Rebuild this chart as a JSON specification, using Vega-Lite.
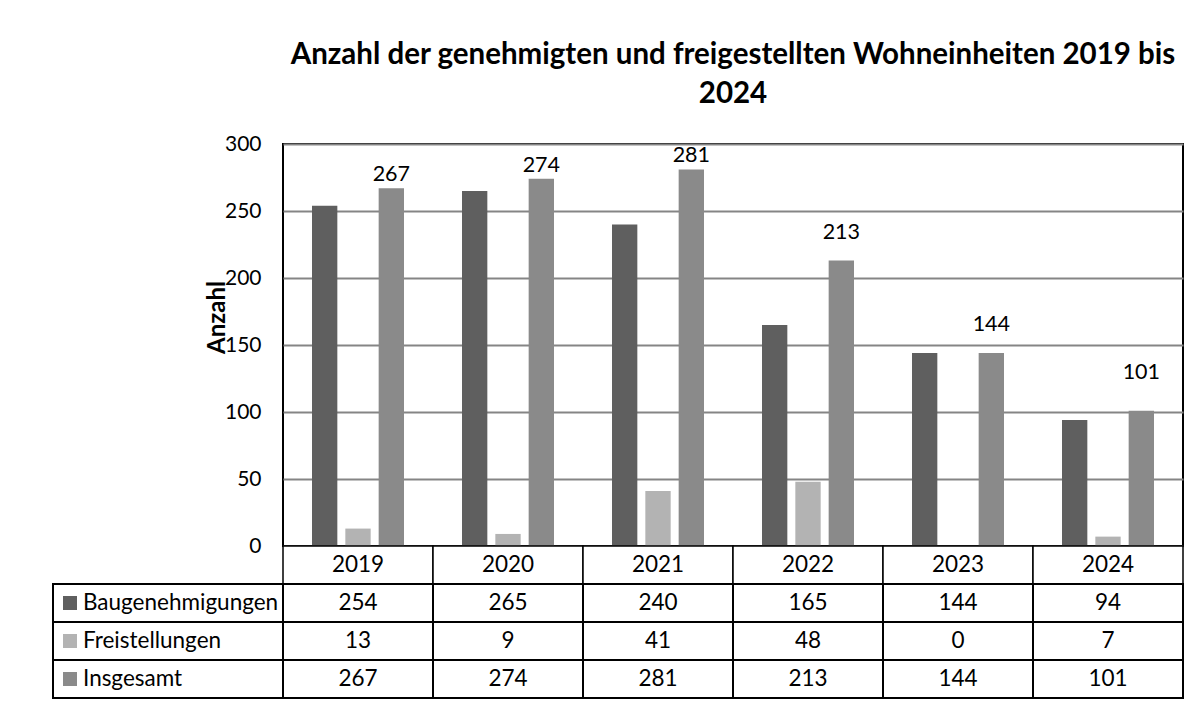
{
  "$schema": "https://vega.github.io/schema/vega-lite/v6.json",
  "background": "white",
  "padding": {"left": 52, "top": 38, "right": 0, "bottom": 0},
  "config": {
    "font": "Lato",
    "view": {"stroke": null},
    "text": {"font": "Lato", "color": "black"},
    "axis": {"labelColor": "black", "titleColor": "black", "labelFont": "Lato", "titleFont": "Lato"}
  },
  "datasets": {
    "main": [
      {"year": "2019", "series": "Baugenehmigungen", "value": 254},
      {"year": "2019", "series": "Freistellungen", "value": 13},
      {"year": "2019", "series": "Insgesamt", "value": 267},
      {"year": "2020", "series": "Baugenehmigungen", "value": 265},
      {"year": "2020", "series": "Freistellungen", "value": 9},
      {"year": "2020", "series": "Insgesamt", "value": 274},
      {"year": "2021", "series": "Baugenehmigungen", "value": 240},
      {"year": "2021", "series": "Freistellungen", "value": 41},
      {"year": "2021", "series": "Insgesamt", "value": 281},
      {"year": "2022", "series": "Baugenehmigungen", "value": 165},
      {"year": "2022", "series": "Freistellungen", "value": 48},
      {"year": "2022", "series": "Insgesamt", "value": 213},
      {"year": "2023", "series": "Baugenehmigungen", "value": 144},
      {"year": "2023", "series": "Freistellungen", "value": 0},
      {"year": "2023", "series": "Insgesamt", "value": 144},
      {"year": "2024", "series": "Baugenehmigungen", "value": 94},
      {"year": "2024", "series": "Freistellungen", "value": 7},
      {"year": "2024", "series": "Insgesamt", "value": 101}
    ]
  },
  "bounds": "flush",
  "spacing": 0,
  "vconcat": [
    {
      "title": {
        "text": ["Anzahl der genehmigten und freigestellten Wohneinheiten 2019 bis", "2024"],
        "font": "Lato",
        "fontSize": 29.5,
        "fontWeight": "bold",
        "color": "black",
        "lineHeight": 39,
        "anchor": "middle",
        "frame": "group",
        "offset": 24
      },
      "width": 900,
      "height": 402,
      "data": {"name": "main"},
      "view": {"stroke": "black", "strokeWidth": 2},
      "encoding": {
        "x": {"field": "year", "type": "nominal", "axis": null, "scale": {"paddingInner": 0, "paddingOuter": 0}},
        "xOffset": {"field": "series", "type": "nominal", "scale": {"domain": ["Baugenehmigungen", "Freistellungen", "Insgesamt"], "paddingInner": 0.24, "paddingOuter": 0.87}},
        "y": {
          "field": "value",
          "type": "quantitative",
          "scale": {"domain": [0, 300], "nice": false},
          "axis": {
            "values": [0, 50, 100, 150, 200, 250, 300],
            "title": "Anzahl",
            "titleFontSize": 24,
            "titleFontWeight": "bold",
            "titleAngle": -90,
            "titleAlign": "center",
            "titleBaseline": "middle",
            "titleX": -66,
            "titleY": 173,
            "labelFontSize": 21,
            "labelPadding": 22,
            "ticks": false,
            "domain": false,
            "grid": true,
            "gridColor": "#858585",
            "gridWidth": 2
          }
        }
      },
      "layer": [
        {
          "mark": {"type": "bar"},
          "encoding": {
            "color": {
              "field": "series",
              "type": "nominal",
              "scale": {"domain": ["Baugenehmigungen", "Freistellungen", "Insgesamt"], "range": ["#5f5f5f", "#b3b3b3", "#8a8a8a"]},
              "legend": null
            }
          }
        },
        {
          "transform": [{"filter": "datum.series == 'Insgesamt'"}],
          "mark": {
            "type": "text",
            "baseline": "bottom",
            "fontSize": 21.5,
            "color": "black",
            "dy": {"expr": "datum.value > 250 ? -2 : (datum.value > 120 ? -17 : -27)"}
          },
          "encoding": {"text": {"field": "value", "type": "quantitative"}}
        }
      ]
    },
    {
      "width": 900,
      "height": 152,
      "data": {"name": "main"},
      "resolve": {"scale": {"x": "independent"}},
      "layer": [
        {
          "transform": [{"filter": "datum.series == 'Insgesamt'"}],
          "mark": {"type": "rect", "fill": "white", "stroke": "black", "strokeWidth": 1.5},
          "encoding": {
            "x": {"field": "year", "type": "nominal", "axis": null, "scale": {"paddingInner": 0, "paddingOuter": 0}},
            "y": {"datum": "Jahr", "type": "nominal", "axis": null, "scale": {"domain": ["Jahr", "Baugenehmigungen", "Freistellungen", "Insgesamt"], "paddingInner": 0, "paddingOuter": 0}}
          }
        },
        {
          "transform": [{"filter": "datum.series == 'Insgesamt'"}],
          "mark": {"type": "text", "fontSize": 22.5, "color": "black"},
          "encoding": {
            "x": {"field": "year", "type": "nominal", "axis": null, "scale": {"paddingInner": 0, "paddingOuter": 0}},
            "y": {"datum": "Jahr", "type": "nominal", "axis": null},
            "text": {"field": "year", "type": "nominal"}
          }
        },
        {
          "mark": {"type": "rect", "fill": "white", "stroke": "black", "strokeWidth": 2},
          "encoding": {
            "x": {"field": "year", "type": "nominal", "axis": null, "scale": {"paddingInner": 0, "paddingOuter": 0}},
            "y": {"field": "series", "type": "nominal", "axis": null}
          }
        },
        {
          "mark": {"type": "text", "fontSize": 22.5, "color": "black"},
          "encoding": {
            "x": {"field": "year", "type": "nominal", "axis": null, "scale": {"paddingInner": 0, "paddingOuter": 0}},
            "y": {"field": "series", "type": "nominal", "axis": null},
            "text": {"field": "value", "type": "quantitative"}
          }
        },
        {
          "transform": [{"filter": "datum.year == '2019'"}],
          "mark": {"type": "rect", "fill": "white", "stroke": "black", "strokeWidth": 2},
          "encoding": {
            "x": {"datum": "Legende", "type": "nominal", "axis": null, "scale": {"domain": ["Legende"], "range": [-230, 0], "paddingInner": 0, "paddingOuter": 0}},
            "y": {"field": "series", "type": "nominal", "axis": null}
          }
        },
        {
          "transform": [{"filter": "datum.year == '2019'"}],
          "mark": {"type": "text", "fontSize": 22.5, "color": "black", "align": "left", "dx": -85},
          "encoding": {
            "x": {"datum": "Legende", "type": "nominal", "axis": null, "scale": {"domain": ["Legende"], "range": [-230, 0], "paddingInner": 0, "paddingOuter": 0}},
            "y": {"field": "series", "type": "nominal", "axis": null},
            "text": {"field": "series", "type": "nominal"}
          }
        },
        {
          "transform": [{"filter": "datum.year == '2019'"}],
          "mark": {"type": "point", "shape": "square", "filled": true, "opacity": 1, "size": 196, "xOffset": -98},
          "encoding": {
            "x": {"datum": "Legende", "type": "nominal", "axis": null, "scale": {"domain": ["Legende"], "range": [-230, 0], "paddingInner": 0, "paddingOuter": 0}},
            "y": {"field": "series", "type": "nominal", "axis": null},
            "color": {
              "field": "series",
              "type": "nominal",
              "scale": {"domain": ["Baugenehmigungen", "Freistellungen", "Insgesamt"], "range": ["#5f5f5f", "#b3b3b3", "#8a8a8a"]},
              "legend": null
            }
          }
        }
      ]
    }
  ]
}
